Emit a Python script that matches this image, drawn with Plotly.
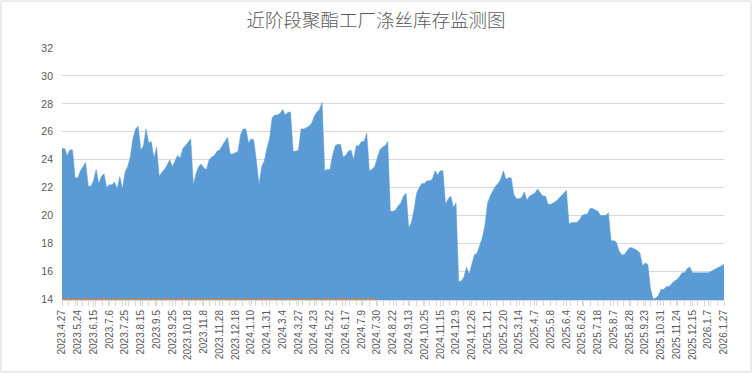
import plotly.graph_objects as go

# Polyester filament inventory (days), equally spaced observations
inventory = [
    24.8, 24.8, 24.3, 24.7, 24.7, 22.7, 22.7, 23.2, 23.5, 23.8,
    22.1, 22.1, 22.5, 23.3, 22.3, 22.8, 23.0, 22.0, 22.2, 22.2,
    22.4, 21.9, 22.8, 21.9, 23.1, 23.5, 24.2, 25.5, 26.2, 26.4,
    24.7, 25.0, 26.2, 25.2, 25.3, 24.1, 24.9, 22.8, 23.1, 23.3,
    23.6, 24.0, 23.5, 23.9, 24.3, 24.1, 24.8, 25.0, 25.3, 25.5,
    22.2, 23.0, 23.5, 23.7, 23.4, 23.3, 24.0, 24.2, 24.3, 24.6,
    24.7, 25.0, 25.3, 25.6, 24.4, 24.4, 24.5, 24.6, 25.8, 26.2,
    26.2, 25.2, 25.5, 25.4, 23.9, 22.2, 23.5, 23.9, 24.8, 25.5,
    27.0, 27.2, 27.2, 27.3, 27.6, 27.2, 27.4, 27.4, 24.6, 24.6,
    24.7, 26.2, 26.2, 26.3, 26.4, 26.6, 27.1, 27.4, 27.6, 28.1,
    23.2, 23.3, 23.3, 24.3, 25.0, 25.1, 25.1, 24.2, 24.3, 24.6,
    24.7, 24.0, 25.0, 25.0, 25.3, 25.3, 25.9, 23.2, 23.3, 23.5,
    24.2, 24.7, 24.9, 25.0, 25.3, 20.3, 20.3, 20.4, 20.7, 20.9,
    21.4, 21.6, 19.1, 19.5, 20.4, 21.6, 22.0, 22.3, 22.3, 22.5,
    22.5, 22.6, 23.2, 22.9, 23.2, 23.2, 20.8, 21.2, 21.4, 20.6,
    20.9, 15.3, 15.3, 15.6, 16.3, 15.8, 16.5, 17.2, 17.3, 17.8,
    18.4, 19.3, 20.9, 21.4, 21.8, 22.1, 22.3, 22.6, 23.2, 22.6,
    22.7, 22.7, 21.5, 21.2, 21.2, 21.3, 21.7, 21.1, 21.4, 21.5,
    21.6, 21.9, 21.6, 21.4, 21.4, 20.8, 20.8, 20.9, 21.0, 21.2,
    21.4, 21.6, 21.8, 19.4, 19.5, 19.5, 19.5, 19.7, 20.0, 20.1,
    20.1, 20.5, 20.5, 20.4, 20.3, 20.0, 20.0, 20.0, 20.2, 18.2,
    18.2, 18.1, 17.5, 17.2, 17.2, 17.5, 17.7, 17.7, 17.6, 17.5,
    17.3, 16.4, 16.6, 16.5, 14.8, 14.0, 14.1, 14.25, 14.7, 14.7,
    14.9, 14.9, 15.1, 15.3, 15.4, 15.6, 15.9, 15.9, 16.2, 16.3,
    15.9, 15.9, 15.9, 15.9, 15.9, 15.9, 15.9, 16.0, 16.1, 16.2,
    16.3, 16.4, 16.5,
]

tick_labels = [
    "2023.4.27", "2023.5.24", "2023.6.15", "2023.7.6", "2023.7.25", "2023.8.15",
    "2023.9.5", "2023.9.25", "2023.10.18", "2023.11.8", "2023.11.28", "2023.12.18",
    "2024.1.10", "2024.1.31", "2024.3.4", "2024.3.27", "2024.4.23", "2024.5.22",
    "2024.6.17", "2024.7.9", "2024.7.30", "2024.8.22", "2024.9.13", "2024.10.25",
    "2024.11.15", "2024.12.9", "2024.12.26", "2025.1.21", "2025.2.20", "2025.3.14",
    "2025.4.7", "2025.5.8", "2025.6.4", "2025.6.26", "2025.7.18", "2025.8.7",
    "2025.8.28", "2025.9.23", "2025.10.31", "2025.11.24", "2025.12.15", "2026.1.7",
    "2026.1.27",
]
label_step = 6

# secondary (orange dashed) series at the axis floor, first part of the period
ref_series = [14] * 121

x = list(range(len(inventory)))
tickvals = list(range(0, len(inventory), label_step))

fig = go.Figure()
fig.add_trace(go.Scatter(
    x=x, y=inventory, mode="lines", fill="tozeroy",
    line=dict(color="#5B9BD5", width=0.5), fillcolor="#5B9BD5",
    showlegend=False, hoverinfo="skip",
))
fig.add_trace(go.Scatter(
    x=list(range(len(ref_series))), y=ref_series, mode="lines",
    line=dict(color="#ED7D31", width=2, dash="3px,2px"),
    showlegend=False, hoverinfo="skip",
))

L, R, T, B = 62, 28, 48, 73
W, H = 752, 373
pw, ph = W - L - R, H - T - B

fig.update_layout(
    width=W, height=H,
    margin=dict(l=L, r=R, t=T, b=B, autoexpand=False),
    paper_bgcolor="white", plot_bgcolor="white",
    title=dict(
        text="近阶段聚酯工厂涤丝库存监测图",
        x=0.5, xref="container", xanchor="center",
        y=1 - 21 / H, yref="container", yanchor="middle",
        font=dict(family="Noto Sans CJK SC", size=18.5, color="#595959", weight=300),
    ),
    font=dict(family="Liberation Sans, Arial", color="#595959"),
    shapes=[dict(
        type="rect", xref="paper", yref="paper",
        x0=-(L - 1) / pw, x1=1 + (R - 1) / pw,
        y0=-(B - 1) / ph, y1=1 + (T - 1) / ph,
        line=dict(color="#D9D9D9", width=1), layer="below",
    )],
)
fig.update_xaxes(
    range=[0, len(inventory) - 1], automargin=False, layer="below traces",
    tickmode="array", tickvals=tickvals, ticktext=tick_labels,
    tickangle=-90, tickfont=dict(size=10, color="#595959"),
    showgrid=False, zeroline=False,
    showline=True, linecolor="#D9D9D9", linewidth=1,
    ticks="outside", ticklen=5, tickcolor="#D9D9D9",
    minor=dict(tickmode="linear", tick0=0, dtick=2.546, ticks="outside",
               ticklen=5, tickcolor="#D9D9D9", showgrid=False),
)
fig.update_yaxes(
    range=[13.95, 32], tickvals=[14, 16, 18, 20, 22, 24, 26, 28, 30, 32],
    automargin=False,
    showgrid=True, gridcolor="#D9D9D9", gridwidth=1,
    zeroline=False, showline=False, ticks="",
    ticklabelstandoff=8,
    tickfont=dict(size=10.5, color="#595959"),
)

fig.write_html(
    "out.html",
    config={"displayModeBar": False},
    post_script="document.body.style.margin='0';document.body.style.overflow='hidden';",
)
